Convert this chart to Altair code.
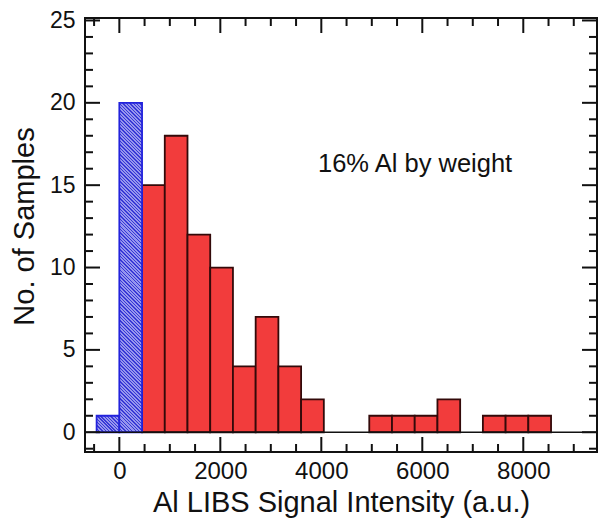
import altair as alt
import pandas as pd

# ---- data ----
bin_left = [-450, 0, 450, 900, 1350, 1800, 2250, 2700, 3150, 3600,
            4950, 5400, 5850, 6300, 7200, 7650, 8100]
bin_right = [0, 450, 900, 1350, 1800, 2250, 2700, 3150, 3600, 4050,
             5400, 5850, 6300, 6750, 7650, 8100, 8550]
counts = [1, 20, 15, 18, 12, 10, 4, 7, 4, 2, 1, 1, 1, 2, 1, 1, 1]
group = ["blank", "blank"] + ["sample"] * 15

x_major = [0, 2000, 4000, 6000, 8000]
x_minor = [-500, 500, 1000, 1500, 2500, 3000, 3500, 4500, 5000, 5500,
           6500, 7000, 7500, 8500, 9000]
y_major = [0, 5, 10, 15, 20, 25]
y_minor = [-1, 1, 2, 3, 4, 6, 7, 8, 9, 11, 12, 13, 14, 16, 17, 18, 19,
           21, 22, 23, 24]

X_DOMAIN = [-680, 9460]
Y_DOMAIN = [-1.2, 25.15]
W, H = 512, 434
FONT = "Liberation Sans"

df = pd.DataFrame({"left": bin_left, "right": bin_right,
                   "count": counts, "group": group})

xs = alt.Scale(domain=X_DOMAIN, nice=False, zero=False)
ys = alt.Scale(domain=Y_DOMAIN, nice=False, zero=False)

AX = alt.Axis(values=x_major, format="d", grid=False, ticks=False,
              domain=False, labelFontSize=24, labelPadding=7,
              title="Al LIBS Signal Intensity (a.u.)",
              titleFontSize=29, titlePadding=5)
AY = alt.Axis(values=y_major, format="d", grid=False, ticks=False,
              domain=False, labelFontSize=23, labelPadding=10,
              title="No. of Samples", titleFontSize=29, titlePadding=10,
              titleY=208)


def hatch(w, h, spacing=3.4, dark="#3838d6", light="#9696ee"):
    s = (w + h) / (w * w + h * h)
    n = max(1, int(round((w + h) / spacing)))
    stops = []
    for i in range(n):
        a = i / n
        b = (i + 0.4) / n
        c = (i + 1) / n
        stops += [{"offset": a, "color": dark}, {"offset": b, "color": dark},
                  {"offset": b, "color": light}, {"offset": c, "color": light}]
    return {"gradient": "linear", "x1": 0, "y1": 1,
            "x2": s * w, "y2": 1 - s * h, "stops": stops}


px_x = W / (X_DOMAIN[1] - X_DOMAIN[0])
px_y = H / (Y_DOMAIN[1] - Y_DOMAIN[0])

base = alt.Chart(df)

red = base.transform_filter(alt.datum.group == "sample").mark_rect(
    fill="#f23c3c", stroke="#330a0a", strokeWidth=1.8
).encode(
    x=alt.X("left:Q", scale=xs, axis=AX),
    x2="right:Q",
    y=alt.Y("count:Q", scale=ys, axis=AY),
    y2=alt.datum(0),
)

blue_layers = []
for i in range(2):
    w = (bin_right[i] - bin_left[i]) * px_x
    h = counts[i] * px_y
    lyr = base.transform_filter(
        (alt.datum.group == "blank") & (alt.datum.left == bin_left[i])
    ).mark_rect(fill=hatch(w, h), stroke="#2222dc", strokeWidth=1.8).encode(
        x=alt.X("left:Q", scale=xs, axis=AX),
        x2="right:Q",
        y=alt.Y("count:Q", scale=ys, axis=AY),
        y2=alt.datum(0),
    )
    blue_layers.append(lyr)

baseline = alt.Chart(pd.DataFrame({"v": [0]})).mark_rule(
    color="#111", strokeWidth=1.6
).encode(y=alt.Y("v:Q", scale=ys, axis=AY))


def xticks(vals, length):
    d = alt.Chart(pd.DataFrame({"t": vals}))
    bot = d.mark_rule(color="#111", strokeWidth=2).encode(
        x=alt.X("t:Q", scale=xs, axis=AX),
        y=alt.value(H), y2=alt.value(H - length))
    top = d.mark_rule(color="#111", strokeWidth=2).encode(
        x=alt.X("t:Q", scale=xs, axis=AX),
        y=alt.value(0), y2=alt.value(length))
    return [bot, top]


def yticks(vals, length):
    d = alt.Chart(pd.DataFrame({"t": vals}))
    lft = d.mark_rule(color="#111", strokeWidth=2).encode(
        y=alt.Y("t:Q", scale=ys, axis=AY),
        x=alt.value(0), x2=alt.value(length))
    rgt = d.mark_rule(color="#111", strokeWidth=2).encode(
        y=alt.Y("t:Q", scale=ys, axis=AY),
        x=alt.value(W), x2=alt.value(W - length))
    return [lft, rgt]


ticks = xticks(x_major, 15) + xticks(x_minor, 8) + yticks(y_major, 15) + yticks(y_minor, 8)

note = alt.Chart(pd.DataFrame({"txt": ["16% Al by weight"]})).mark_text(
    align="left", baseline="alphabetic", font=FONT, fontSize=25.5, color="#111"
).encode(text="txt:N", x=alt.value(233), y=alt.value(154))

chart = alt.layer(red, *blue_layers, baseline, *ticks, note).properties(
    width=W, height=H,
    padding={"left": 85, "top": 18, "right": 13, "bottom": 80},
    autosize=alt.AutoSizeParams(type="none"),
    background="white",
).configure_view(stroke="#111", strokeWidth=2).configure_axis(
    labelFont=FONT, titleFont=FONT, labelColor="#111", titleColor="#111",
    titleFontWeight="normal",
)

chart.save("out.html", embed_options={"renderer": "svg", "actions": False})
